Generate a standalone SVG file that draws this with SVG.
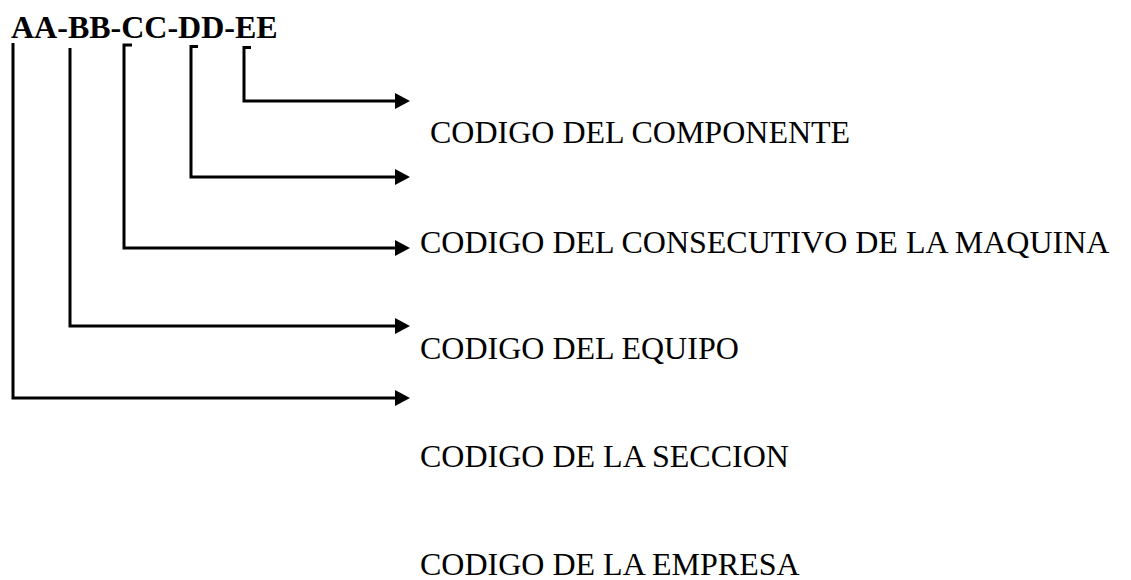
<svg xmlns="http://www.w3.org/2000/svg" width="1131" height="580" viewBox="0 0 1131 580">
<style>
.bg{fill:#fff}
.conn{fill:none;stroke:#000;stroke-width:3;stroke-linejoin:miter}
.title{font-family:"Liberation Serif","Times New Roman",serif;font-weight:bold;font-size:32px;fill:#000}
.lbl{font-family:"Liberation Serif","Times New Roman",serif;font-size:32px;fill:#000}
</style>
<defs>
<marker id="arr" viewBox="0 0 15 16" refX="5" refY="8" markerWidth="15" markerHeight="16" markerUnits="userSpaceOnUse" orient="auto">
<path d="M0,0 L15,8 L0,16 Z" fill="#000"/>
</marker>
</defs>
<rect class="bg" x="0" y="0" width="1131" height="580"/>
<g id="title"><text class="title" x="11" y="38">AA-BB-CC-DD-EE</text></g>
<g id="connectors">
<polyline class="conn" points="13,43 13,398 400,398" marker-end="url(#arr)"/>
<polyline class="conn" points="70,48 70,326 400,326" marker-end="url(#arr)"/>
<polyline class="conn" points="132,45 124,45 124,248 400,248" marker-end="url(#arr)"/>
<polyline class="conn" points="198,46.5 191,46.5 191,177 400,177" marker-end="url(#arr)"/>
<polyline class="conn" points="251,47.5 244,47.5 244,101 400,101" marker-end="url(#arr)"/>
</g>
<g id="componente"><text class="lbl" x="430" y="143">CODIGO DEL COMPONENTE</text></g>
<g id="consecutivo"><text class="lbl" x="420" y="253">CODIGO DEL CONSECUTIVO DE LA MAQUINA</text></g>
<g id="equipo"><text class="lbl" x="420" y="359">CODIGO DEL EQUIPO</text></g>
<g id="seccion"><text class="lbl" x="420" y="467">CODIGO DE LA SECCION</text></g>
<g id="empresa"><text class="lbl" x="420" y="575">CODIGO DE LA EMPRESA</text></g>
</svg>
